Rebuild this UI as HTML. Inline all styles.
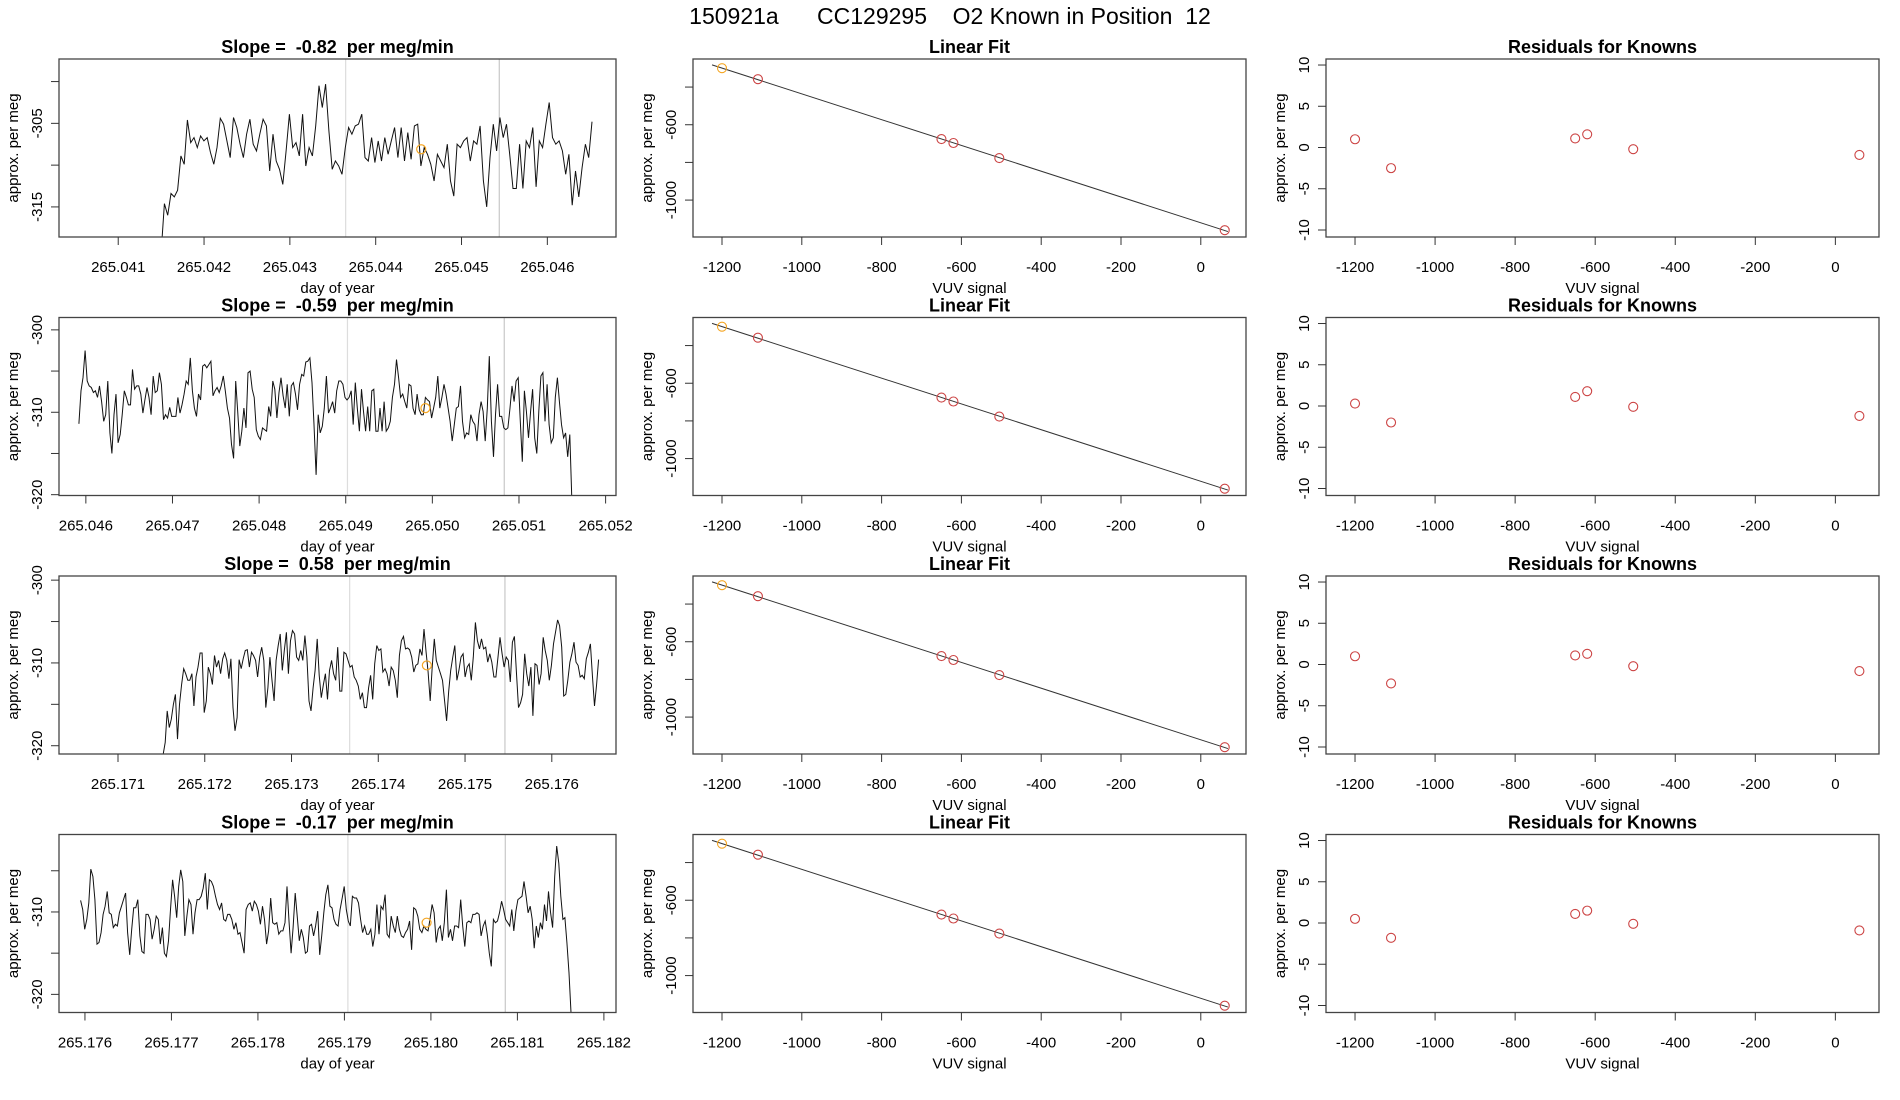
<!DOCTYPE html>
<html><head><meta charset="utf-8"><style>
html,body{margin:0;padding:0;background:#fff;}
svg{display:block;font-family:"Liberation Sans",sans-serif;}
.pre{white-space:pre;}
</style></head><body>
<svg id="chart" width="1900" height="1100" viewBox="0 0 1900 1100" xmlns="http://www.w3.org/2000/svg">
<rect width="1900" height="1100" fill="#fff"/>
<text class="pre" x="950" y="24" font-size="23" text-anchor="middle" xml:space="preserve">150921a      CC129295    O2 Known in Position  12</text>
<g id="plots"></g>
</svg>
<script>
const slopeTitles = ["Slope =  -0.82  per meg/min","Slope =  -0.59  per meg/min","Slope =  0.58  per meg/min","Slope =  -0.17  per meg/min"];
const row1Start = 265.0415, row1End = 265.04652;
const row1Values = [-320.5,-314.6,-316.0,-313.4,-313.8,-313.0,-308.9,-309.9,-304.6,-307.3,-306.7,-307.9,-306.5,-307.1,-306.7,-308.5,-309.9,-307.9,-304.4,-305.1,-307.1,-309.1,-304.3,-305.5,-307.5,-309.1,-306.3,-304.5,-307.5,-308.3,-306.3,-304.5,-305.3,-310.7,-306.3,-309.5,-310.5,-312.3,-308.3,-303.9,-307.9,-307.3,-308.9,-303.9,-310.1,-307.9,-308.9,-305.3,-300.5,-303.1,-300.3,-305.9,-310.5,-309.5,-310.1,-311.1,-307.9,-305.5,-306.3,-305.3,-305.1,-303.9,-309.1,-309.5,-306.7,-309.7,-307.1,-309.5,-306.7,-308.7,-307.1,-305.5,-309.1,-305.5,-309.5,-306.1,-309.3,-305.3,-305.1,-310.1,-307.9,-308.7,-309.9,-311.9,-308.7,-309.5,-310.3,-307.5,-311.9,-313.7,-307.5,-307.9,-307.1,-306.7,-309.5,-307.1,-307.5,-305.3,-311.9,-315.0,-309.1,-305.1,-308.3,-304.3,-306.7,-305.1,-308.7,-312.8,-312.8,-307.5,-312.8,-307.1,-307.9,-305.5,-312.6,-307.1,-307.9,-305.1,-302.5,-306.7,-307.5,-307.1,-308.3,-311.1,-308.7,-314.8,-310.7,-313.8,-310.3,-307.5,-309.1,-304.8];
const row2Start = 265.04592, row2End = 265.05161;
const row2Values = [-311.4,-307.4,-305.8,-302.5,-306.2,-306.8,-307.0,-307.6,-307.4,-308.2,-306.8,-308.7,-311.1,-310.3,-306.2,-312.5,-315.0,-310.3,-307.8,-313.7,-312.7,-310.3,-307.4,-308.2,-309.1,-309.1,-304.8,-307.2,-306.8,-306.8,-307.8,-310.1,-308.5,-307.0,-308.2,-310.3,-305.6,-307.6,-307.4,-305.2,-306.6,-310.9,-310.3,-310.7,-309.4,-310.5,-310.5,-310.5,-308.2,-310.1,-309.1,-307.8,-306.2,-306.6,-303.4,-307.4,-309.5,-310.5,-307.8,-308.5,-304.4,-304.2,-304.6,-304.2,-303.8,-308.0,-307.4,-307.0,-307.6,-306.8,-305.6,-307.4,-309.5,-310.7,-313.9,-315.6,-306.2,-309.9,-314.1,-312.3,-309.5,-311.9,-305.2,-305.0,-307.2,-308.2,-312.1,-312.9,-313.3,-311.9,-312.1,-312.3,-309.3,-310.5,-306.2,-307.2,-310.7,-307.6,-305.8,-308.0,-309.5,-306.6,-310.5,-306.8,-306.4,-307.8,-309.7,-306.6,-305.4,-305.6,-303.9,-303.8,-303.4,-306.4,-311.5,-317.6,-310.3,-312.5,-311.7,-309.5,-305.6,-310.1,-309.5,-308.7,-310.1,-307.4,-306.2,-306.2,-306.6,-308.2,-308.5,-308.2,-307.4,-311.5,-306.4,-309.5,-312.3,-307.2,-309.9,-312.3,-309.3,-312.3,-307.4,-307.2,-312.3,-312.3,-309.5,-312.3,-308.7,-312.3,-311.9,-311.1,-308.2,-306.6,-303.6,-305.8,-308.2,-307.8,-308.7,-309.5,-306.6,-306.8,-309.5,-310.3,-307.8,-309.7,-310.3,-310.3,-308.2,-308.5,-308.7,-310.7,-309.5,-308.2,-305.6,-309.5,-308.2,-306.6,-307.8,-309.5,-311.1,-313.5,-311.5,-309.5,-309.3,-306.8,-311.1,-313.1,-312.5,-312.7,-310.3,-311.1,-311.5,-313.5,-310.3,-308.7,-309.9,-313.5,-309.5,-303.2,-311.1,-315.4,-310.3,-306.6,-310.5,-310.5,-311.9,-312.1,-311.9,-309.5,-306.8,-308.7,-306.2,-305.8,-311.1,-316.0,-307.4,-309.9,-313.1,-309.9,-307.2,-313.1,-315.0,-309.9,-305.6,-305.2,-311.1,-306.6,-311.5,-313.7,-313.1,-308.2,-305.8,-308.7,-311.5,-313.1,-312.5,-315.4,-312.7,-320.5];
const row3Start = 265.17152, row3End = 265.17654;
const row3Values = [-321.1,-319.6,-315.8,-317.8,-316.8,-315.0,-313.8,-319.2,-315.0,-312.6,-310.7,-311.3,-312.1,-312.1,-311.3,-315.2,-311.7,-310.5,-308.8,-308.8,-316.0,-314.6,-310.5,-311.3,-312.6,-309.1,-310.5,-309.7,-311.3,-309.5,-308.8,-309.7,-311.9,-309.5,-315.4,-318.2,-316.6,-309.6,-310.7,-309.5,-308.5,-308.4,-310.5,-308.7,-309.1,-309.7,-311.7,-309.3,-308.1,-309.7,-315.4,-313.0,-309.3,-312.1,-314.6,-309.7,-307.9,-306.5,-310.9,-308.5,-306.3,-311.3,-307.3,-306.1,-306.5,-309.3,-309.7,-308.5,-309.7,-306.7,-309.3,-314.6,-315.8,-313.0,-310.9,-307.1,-311.5,-314.2,-312.6,-311.3,-314.4,-310.9,-309.7,-311.3,-312.1,-308.1,-313.4,-313.4,-308.7,-308.9,-309.7,-310.5,-310.3,-311.7,-312.1,-312.8,-314.4,-313.6,-315.4,-315.4,-313.0,-311.5,-314.4,-310.1,-307.9,-308.5,-308.3,-311.1,-310.7,-311.3,-312.8,-310.5,-310.9,-312.1,-314.2,-309.1,-307.3,-306.8,-308.3,-308.2,-308.4,-309.3,-311.1,-310.3,-310.1,-308.3,-309.1,-305.9,-308.7,-311.1,-314.6,-310.5,-307.1,-309.7,-310.5,-311.3,-312.1,-314.6,-317.0,-313.4,-310.9,-309.3,-307.9,-312.1,-310.9,-309.3,-308.9,-311.7,-310.5,-310.1,-312.1,-309.3,-305.1,-307.3,-308.3,-307.1,-308.3,-308.1,-309.9,-308.9,-309.9,-311.7,-311.7,-309.3,-306.9,-308.9,-310.5,-309.3,-309.7,-312.3,-307.5,-306.8,-311.3,-315.4,-314.8,-313.8,-308.9,-311.3,-312.8,-310.5,-316.4,-310.1,-310.3,-312.6,-311.3,-306.9,-308.5,-309.7,-312.1,-310.3,-307.7,-306.3,-304.8,-305.5,-308.1,-314.0,-313.8,-312.1,-309.9,-308.9,-307.5,-309.9,-310.3,-311.7,-311.5,-311.9,-309.5,-308.7,-307.7,-311.7,-315.2,-312.6,-309.6];
const row4Start = 265.17595, row4End = 265.18162;
const row4Values = [-308.6,-309.7,-312.1,-310.9,-308.9,-304.8,-305.7,-308.5,-313.9,-313.7,-312.5,-310.3,-309.3,-307.5,-310.1,-310.3,-311.9,-311.5,-311.7,-310.1,-309.3,-308.5,-307.7,-312.5,-315.2,-312.1,-309.5,-309.5,-308.5,-312.9,-314.8,-315.0,-310.3,-310.3,-310.9,-313.3,-312.1,-310.5,-310.9,-313.9,-311.9,-315.0,-315.4,-313.5,-309.7,-306.1,-308.1,-310.7,-306.9,-304.9,-306.3,-312.9,-310.5,-308.5,-309.1,-312.7,-310.1,-308.5,-308.5,-308.1,-307.1,-305.3,-309.7,-306.1,-306.3,-306.9,-308.1,-309.1,-309.7,-308.9,-310.9,-311.1,-310.3,-310.3,-310.9,-312.1,-311.3,-312.7,-312.5,-313.7,-315.0,-309.7,-309.1,-308.9,-309.9,-308.7,-309.1,-309.9,-311.5,-309.3,-310.9,-313.9,-312.3,-308.3,-311.3,-311.5,-311.3,-312.7,-312.3,-312.3,-311.3,-306.9,-311.1,-315.0,-311.9,-307.7,-310.5,-313.5,-312.1,-313.1,-315.0,-314.8,-311.7,-311.5,-312.9,-311.7,-309.9,-315.2,-312.9,-310.1,-307.9,-306.7,-309.3,-309.5,-310.9,-311.5,-311.7,-309.7,-308.3,-306.9,-309.7,-311.1,-311.7,-308.1,-308.3,-308.3,-308.9,-310.9,-312.5,-311.7,-312.7,-312.7,-312.1,-314.2,-312.7,-309.1,-312.7,-309.3,-309.7,-307.9,-312.7,-313.1,-310.5,-311.7,-312.5,-310.5,-312.1,-312.9,-313.1,-312.5,-312.1,-311.1,-314.6,-309.5,-309.7,-310.5,-312.1,-312.5,-311.7,-312.1,-312.3,-310.9,-309.1,-310.1,-313.7,-312.1,-311.7,-313.5,-311.3,-307.3,-313.1,-312.1,-313.5,-311.7,-311.7,-311.9,-308.5,-311.7,-314.2,-311.3,-311.1,-311.3,-310.3,-310.3,-310.1,-310.3,-312.9,-311.7,-311.1,-312.7,-315.0,-316.6,-310.9,-311.3,-311.1,-310.1,-308.7,-309.7,-310.9,-311.3,-311.7,-309.7,-312.3,-309.9,-308.5,-308.3,-308.1,-306.3,-308.1,-310.1,-309.3,-310.9,-314.4,-311.7,-313.1,-311.3,-312.1,-309.1,-311.1,-307.5,-310.1,-311.9,-305.7,-302.0,-304.1,-308.1,-310.9,-310.7,-313.7,-317.4,-322.2];
const seriesStart = [row1Start,row2Start,row3Start,row4Start];
const seriesEnd = [row1End,row2End,row3End,row4End];
const seriesValues = [row1Values,row2Values,row3Values,row4Values];
const xDomains = [[265.04031,265.04680],[265.04569,265.05212],[265.17032,265.17674],[265.17570,265.18214]];
const yDomains = [[-318.6,-297.3],[-320.1,-298.5],[-321.0,-299.5],[-322.2,-300.6]];
const xTickLabels = [["265.041","265.042","265.043","265.044","265.045","265.046"],["265.046","265.047","265.048","265.049","265.050","265.051","265.052"],["265.171","265.172","265.173","265.174","265.175","265.176"],["265.176","265.177","265.178","265.179","265.180","265.181","265.182"]];
const yTicks = [[-300,-305,-310,-315],[-300,-305,-310,-315,-320],[-300,-305,-310,-315,-320],[-305,-310,-315,-320]];
const yTickLabeled = [[-305,-315],[-300,-310,-320],[-300,-310,-320],[-310,-320]];
const grayLines = [[265.04365,265.04544],[265.04902,265.05083],[265.17367,265.17546],[265.17904,265.18086]];
const orangeT = [265.04453,265.04992,265.17456,265.17995];
const orangeV = [-308.1,-309.5,-310.3,-311.3];
const knownX = [-1200,-1110,-650,-620,-505,60];
const knownY = [-300,-358,-676,-697,-777,-1160];
const fitXTicks = [-1200,-1000,-800,-600,-400,-200,0];
const fitYTicks = [-400,-600,-800,-1000];
const fitYLabeled = [-600,-1000];
const residuals = [[1.0,-2.5,1.1,1.6,-0.2,-0.9],[0.3,-2.0,1.1,1.8,-0.1,-1.2],[1.0,-2.3,1.1,1.3,-0.2,-0.8],[0.5,-1.8,1.1,1.5,-0.1,-0.9]];
const residYTicks = [-10,-5,0,5,10];

const NS = "http://www.w3.org/2000/svg";
const root = document.getElementById('plots');
const rowTops = [59,317.5,576,834.5];
const PH = 178;
const colL = [59,693,1326];
const colW = [557,553,553];
function el(tag, attrs, parent, text){
  const e = document.createElementNS(NS, tag);
  for (const k in attrs) e.setAttribute(k, attrs[k]);
  if (text !== undefined) e.textContent = text;
  (parent||root).appendChild(e);
  return e;
}
function scale(d0,d1,r0,r1){ return v => r0 + (v-d0)/(d1-d0)*(r1-r0); }

function frame(g, L, T, W, title, xlab){
  const t = el('text',{x:L+W/2,y:T-6,'font-size':18,'font-weight':'bold','text-anchor':'middle',style:'white-space:pre'},g,title);
  
  
  const xl = el('text',{x:L+W/2,y:T+PH+56,'font-size':15,'text-anchor':'middle'},g,xlab);
  
  
  const yl = el('text',{x:0,y:0,'font-size':15,'text-anchor':'middle',transform:`translate(${L-41},${T+PH/2}) rotate(-90)`},g,'approx. per meg');
  
  
}
function box(g,L,T,W){
  const b = el('rect',{x:L,y:T,width:W,height:PH,fill:'none',stroke:'#444','stroke-width':1.3},g);
  
  
}
function xTick(g,x,T,label){
  el('line',{x1:x,x2:x,y1:T+PH,y2:T+PH+8,stroke:'#333'},g);
  const t = el('text',{x:x,y:T+PH+35,'font-size':15,'text-anchor':'middle'},g,label);
  
  
}
function yTick(g,y,L,label){
  el('line',{x1:L,x2:L-8,y1:y,y2:y,stroke:'#333'},g);
  if (label !== null){
    const t = el('text',{x:0,y:0,'font-size':15,'text-anchor':'middle',transform:`translate(${L-17},${y}) rotate(-90)`},g,label);
    
    
  }
}

for (let r=0;r<4;r++){
  const T = rowTops[r];
  {
    const L = colL[0], W = colW[0];
    const g = el('g',{});
    
    
    const xs = scale(xDomains[r][0],xDomains[r][1],L,L+W);
    const ys = scale(yDomains[r][0],yDomains[r][1],T+PH,T);
    const cp = el('clipPath',{id:'clip'+r},g);
    el('rect',{x:L,y:T,width:W,height:PH},cp);
    grayLines[r].forEach((v,i)=>{
      const ln = el('line',{x1:xs(v),x2:xs(v),y1:T,y2:T+PH,stroke:i===0?'#dddddd':'#c8c8c8','stroke-width':1.2},g);
      
      
    });
    const vals = seriesValues[r];
    const n = vals.length;
    const pts = vals.map((v,i)=>{
      const t = seriesStart[r] + (seriesEnd[r]-seriesStart[r])*i/(n-1);
      return xs(t).toFixed(1)+','+ys(v).toFixed(1);
    }).join(' ');
    const pl = el('polyline',{points:pts,fill:'none',stroke:'#111','stroke-width':1,'clip-path':`url(#clip${r})`},g);
    
    
    const oc = el('circle',{cx:xs(orangeT[r]),cy:ys(orangeV[r]),r:4.5,fill:'none',stroke:'#f5a623','stroke-width':1.2},g);
    
    
    box(g,L,T,W);
    xTickLabels[r].forEach(lbl=>xTick(g,xs(parseFloat(lbl)),T,lbl));
    yTicks[r].forEach(v=>yTick(g,ys(v),L,yTickLabeled[r].includes(v)?String(v):null));
    frame(g,L,T,W,slopeTitles[r],'day of year');
  }
  {
    const L = colL[1], W = colW[1];
    const g = el('g',{});
    
    
    const xs = scale(-1272.7,113.3,L,L+W);
    const ys = scale(-1196,-251,T+PH,T);
    const n = knownX.length;
    const mx = knownX.reduce((a,b)=>a+b,0)/n, my = knownY.reduce((a,b)=>a+b,0)/n;
    let sxy=0,sxx=0;
    for(let i=0;i<n;i++){sxy+=(knownX[i]-mx)*(knownY[i]-my);sxx+=(knownX[i]-mx)**2;}
    const b = sxy/sxx, a = my-b*mx;
    const x0 = -1225, x1 = 68;
    const fl = el('line',{x1:xs(x0),y1:ys(a+b*x0),x2:xs(x1),y2:ys(a+b*x1),stroke:'#333','stroke-width':1},g);
    
    
    knownX.forEach((x,i)=>{
      const c = el('circle',{cx:xs(x),cy:ys(knownY[i]),r:4.5,fill:'none',stroke:i===0?'#f5a623':'#cc4444','stroke-width':1.1},g);
      
      
    });
    box(g,L,T,W);
    fitXTicks.forEach(v=>xTick(g,xs(v),T,String(v)));
    fitYTicks.forEach(v=>yTick(g,ys(v),L,fitYLabeled.includes(v)?String(v):null));
    frame(g,L,T,W,'Linear Fit','VUV signal');
  }
  {
    const L = colL[2], W = colW[2];
    const g = el('g',{});
    
    
    const xs = scale(-1272.5,109,L,L+W);
    const ys = scale(-10.85,10.73,T+PH,T);
    knownX.forEach((x,i)=>{
      const c = el('circle',{cx:xs(x),cy:ys(residuals[r][i]),r:4.5,fill:'none',stroke:'#cc4444','stroke-width':1.1},g);
      
      
    });
    box(g,L,T,W);
    fitXTicks.forEach(v=>xTick(g,xs(v),T,String(v)));
    residYTicks.forEach(v=>yTick(g,ys(v),L,String(v)));
    frame(g,L,T,W,'Residuals for Knowns','VUV signal');
  }
}
</script>
</body></html>
